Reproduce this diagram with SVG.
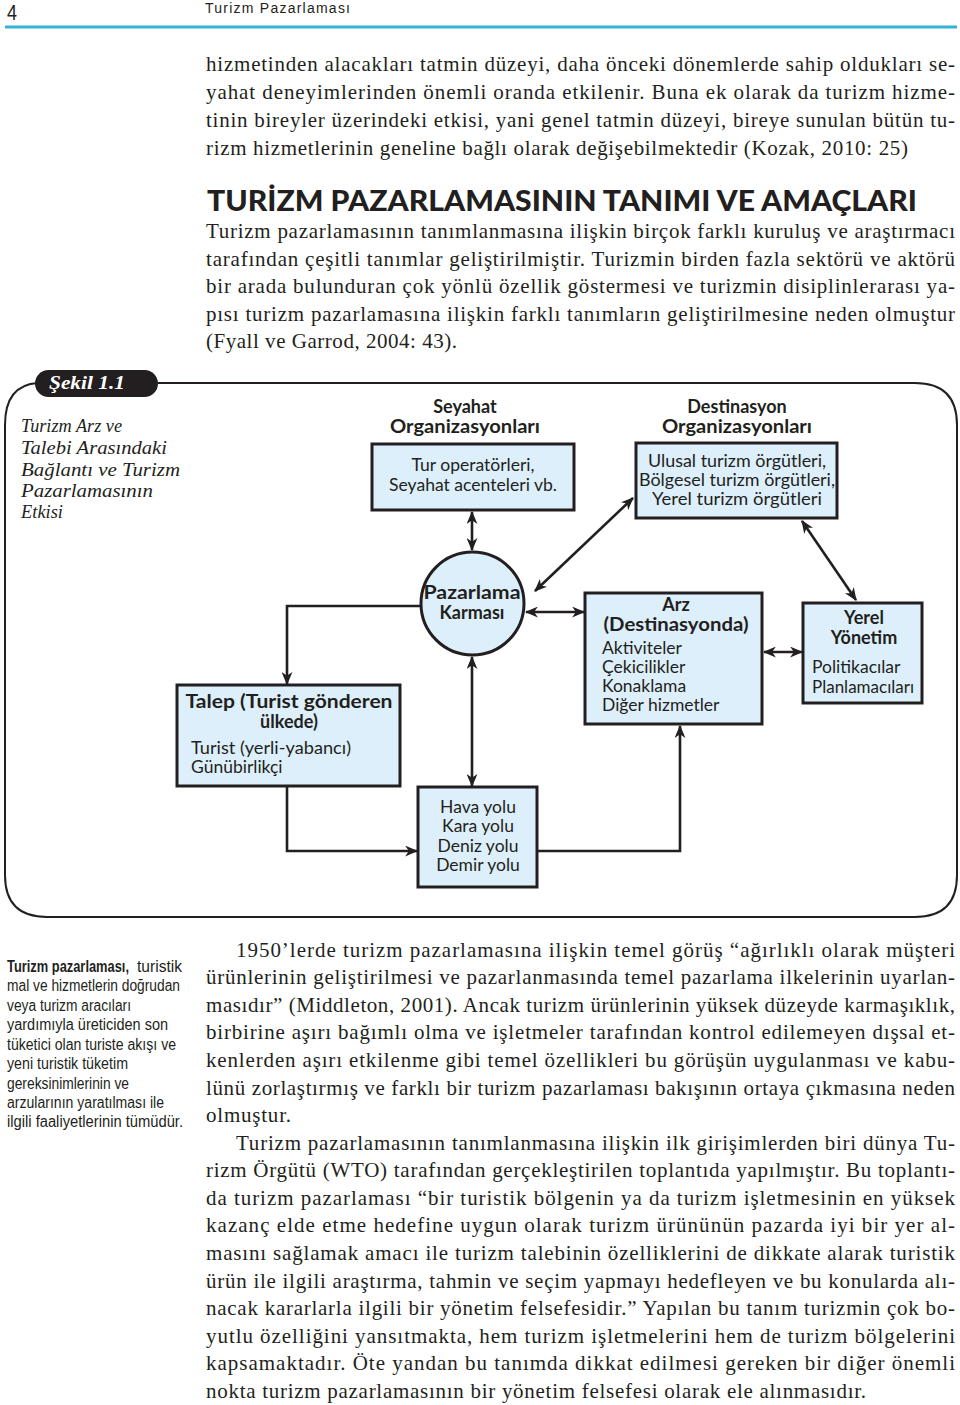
<svg xmlns="http://www.w3.org/2000/svg" width="960" height="1405" viewBox="0 0 960 1405">
<style>
.body{font-family:"Liberation Serif","DejaVu Serif",serif;font-size:21px;fill:#231f20}
.side{font-family:"Liberation Sans","DejaVu Sans",sans-serif;font-size:16px;fill:#231f20}
.cap{font-family:"Liberation Serif","DejaVu Serif",serif;font-size:19px;font-style:italic;fill:#231f20}
.t{font-family:Lato,"Open Sans","Liberation Sans",sans-serif;font-size:17.5px;fill:#231f20}
.tb{font-family:Lato,"Open Sans","Liberation Sans",sans-serif;font-size:18px;font-weight:bold;fill:#231f20}
.box{fill:#ddeffa;stroke:#231f20;stroke-width:3}
.con{fill:none;stroke:#231f20;stroke-width:2.6}
</style>
<defs>
<marker id="ah" viewBox="0 0 12 10" refX="11" refY="5" markerWidth="13" markerHeight="11" markerUnits="userSpaceOnUse" orient="auto-start-reverse">
<path d="M0,0 L12,5 L0,10 L3.5,5 Z" fill="#231f20"/>
</marker>
</defs>
<rect width="960" height="1405" fill="#ffffff"/>

<!-- header -->
<g id="header">
<text x="7" y="20" font-family="Liberation Sans,sans-serif" font-size="22" fill="#231f20" textLength="10" lengthAdjust="spacingAndGlyphs">4</text>
<text x="205" y="13" font-family="Liberation Sans,sans-serif" font-size="14" fill="#231f20" textLength="145" lengthAdjust="spacing">Turizm Pazarlaması</text>
<line x1="5" y1="27" x2="957" y2="27" stroke="#36b4d8" stroke-width="3"/>
</g>

<!-- paragraph 1 -->
<g id="para1">
<text class="body" x="206" y="71" textLength="749" lengthAdjust="spacing">hizmetinden alacakları tatmin düzeyi, daha önceki dönemlerde sahip oldukları se-</text>
<text class="body" x="206" y="99" textLength="749" lengthAdjust="spacing">yahat deneyimlerinden önemli oranda etkilenir. Buna ek olarak da turizm hizme-</text>
<text class="body" x="206" y="127" textLength="749" lengthAdjust="spacing">tinin bireyler üzerindeki etkisi, yani genel tatmin düzeyi, bireye sunulan bütün tu-</text>
<text class="body" x="206" y="155" textLength="702" lengthAdjust="spacing">rizm hizmetlerinin geneline bağlı olarak değişebilmektedir (Kozak, 2010: 25)</text>
</g>

<g id="heading">
<text x="207" y="211" font-family="Lato,'Open Sans','Liberation Sans',sans-serif" font-size="29" font-weight="900" fill="#231f20" textLength="710" lengthAdjust="spacingAndGlyphs">TURİZM PAZARLAMASININ TANIMI VE AMAÇLARI</text>
</g>

<g id="para2">
<text class="body" x="206" y="238" textLength="749" lengthAdjust="spacing">Turizm pazarlamasının tanımlanmasına ilişkin birçok farklı kuruluş ve araştırmacı</text>
<text class="body" x="206" y="266" textLength="749" lengthAdjust="spacing">tarafından çeşitli tanımlar geliştirilmiştir. Turizmin birden fazla sektörü ve aktörü</text>
<text class="body" x="206" y="293" textLength="749" lengthAdjust="spacing">bir arada bulunduran çok yönlü özellik göstermesi ve turizmin disiplinlerarası ya-</text>
<text class="body" x="206" y="321" textLength="749" lengthAdjust="spacing">pısı turizm pazarlamasına ilişkin farklı tanımların geliştirilmesine neden olmuştur</text>
<text class="body" x="206" y="348" textLength="251" lengthAdjust="spacing">(Fyall ve Garrod, 2004: 43).</text>
</g>

<!-- figure frame and caption -->
<g id="figure-frame">
<path d="M158 383 H915 Q957 383 957 425 V875 Q957 917 915 917 H47 Q5 917 5 875 V425 Q5 385 38 383" fill="none" stroke="#231f20" stroke-width="2"/>
<rect x="35" y="370" width="123" height="27" rx="13.5" fill="#231f20"/>
<text x="49" y="389" font-family="Liberation Serif,serif" font-size="19" font-style="italic" font-weight="bold" fill="#ffffff" textLength="76" lengthAdjust="spacingAndGlyphs">Şekil 1.1</text>
</g>
<g id="caption">
<text class="cap" x="21" y="432" textLength="101" lengthAdjust="spacingAndGlyphs">Turizm Arz ve</text>
<text class="cap" x="21" y="454" textLength="146" lengthAdjust="spacingAndGlyphs">Talebi Arasındaki</text>
<text class="cap" x="21" y="476" textLength="159" lengthAdjust="spacingAndGlyphs">Bağlantı ve Turizm</text>
<text class="cap" x="21" y="497" textLength="132" lengthAdjust="spacingAndGlyphs">Pazarlamasının</text>
<text class="cap" x="21" y="518" textLength="42" lengthAdjust="spacingAndGlyphs">Etkisi</text>
</g>

<!-- connectors -->
<g id="connectors">
<line class="con" x1="472" y1="512" x2="472" y2="550" marker-start="url(#ah)" marker-end="url(#ah)"/>
<line class="con" x1="535" y1="591" x2="633" y2="498" marker-start="url(#ah)" marker-end="url(#ah)"/>
<line class="con" x1="802" y1="521" x2="856" y2="600" marker-start="url(#ah)" marker-end="url(#ah)"/>
<line class="con" x1="526" y1="612" x2="584" y2="612" marker-start="url(#ah)" marker-end="url(#ah)"/>
<line class="con" x1="764" y1="652" x2="802" y2="652" marker-start="url(#ah)" marker-end="url(#ah)"/>
<polyline class="con" points="421,606 287,606 287,684" marker-end="url(#ah)"/>
<line class="con" x1="472" y1="657" x2="472" y2="786" marker-start="url(#ah)" marker-end="url(#ah)"/>
<polyline class="con" points="287,787 287,851 417,851" marker-end="url(#ah)"/>
<polyline class="con" points="538,851 680,851 680,726" marker-end="url(#ah)"/>
</g>

<!-- nodes -->
<g id="seyahat">
<text class="tb" x="465" y="413" text-anchor="middle">Seyahat</text>
<text class="tb" x="465" y="433" text-anchor="middle" textLength="150" lengthAdjust="spacingAndGlyphs">Organizasyonları</text>
<rect class="box" x="372" y="444" width="202" height="66"/>
<text class="t" x="473" y="471" text-anchor="middle">Tur operatörleri,</text>
<text class="t" x="473" y="491" text-anchor="middle" textLength="168" lengthAdjust="spacingAndGlyphs">Seyahat acenteleri vb.</text>
</g>

<g id="destinasyon">
<text class="tb" x="737" y="413" text-anchor="middle">Destinasyon</text>
<text class="tb" x="737" y="433" text-anchor="middle" textLength="150" lengthAdjust="spacingAndGlyphs">Organizasyonları</text>
<rect class="box" x="636" y="443" width="201" height="75"/>
<text class="t" x="737" y="467" text-anchor="middle" textLength="178" lengthAdjust="spacingAndGlyphs">Ulusal turizm örgütleri,</text>
<text class="t" x="737" y="486" text-anchor="middle" textLength="196" lengthAdjust="spacingAndGlyphs">Bölgesel turizm örgütleri,</text>
<text class="t" x="737" y="505" text-anchor="middle" textLength="170" lengthAdjust="spacingAndGlyphs">Yerel turizm örgütleri</text>
</g>

<g id="pazarlama-karmasi">
<circle cx="472.5" cy="603.5" r="51.5" fill="#ddeffa" stroke="#231f20" stroke-width="3"/>
<text class="tb" x="472" y="599" text-anchor="middle" textLength="97" lengthAdjust="spacingAndGlyphs">Pazarlama</text>
<text class="tb" x="472" y="619" text-anchor="middle">Karması</text>
</g>

<g id="talep">
<rect class="box" x="177" y="685" width="223" height="101"/>
<text class="tb" x="289" y="708" text-anchor="middle" textLength="207" lengthAdjust="spacingAndGlyphs">Talep (Turist gönderen</text>
<text class="tb" x="289" y="728" text-anchor="middle">ülkede)</text>
<text class="t" x="191" y="754" textLength="160" lengthAdjust="spacingAndGlyphs">Turist (yerli-yabancı)</text>
<text class="t" x="191" y="773">Günübirlikçi</text>
</g>

<g id="arz">
<rect class="box" x="585" y="593" width="177" height="131"/>
<text class="tb" x="676" y="611" text-anchor="middle">Arz</text>
<text class="tb" x="676" y="631" text-anchor="middle" textLength="145" lengthAdjust="spacingAndGlyphs">(Destinasyonda)</text>
<text class="t" x="602" y="654">Aktiviteler</text>
<text class="t" x="602" y="673">Çekicilikler</text>
<text class="t" x="602" y="692">Konaklama</text>
<text class="t" x="602" y="711">Diğer hizmetler</text>
</g>

<g id="yerel-yonetim">
<rect class="box" x="803" y="603" width="119" height="100"/>
<text class="tb" x="864" y="624" text-anchor="middle">Yerel</text>
<text class="tb" x="864" y="644" text-anchor="middle">Yönetim</text>
<text class="t" x="812" y="673">Politikacılar</text>
<text class="t" x="812" y="693" textLength="102" lengthAdjust="spacingAndGlyphs">Planlamacıları</text>
</g>

<g id="ulasim">
<rect class="box" x="418" y="787" width="119" height="100"/>
<text class="t" x="478" y="813" text-anchor="middle">Hava yolu</text>
<text class="t" x="478" y="832" text-anchor="middle">Kara yolu</text>
<text class="t" x="478" y="852" text-anchor="middle">Deniz yolu</text>
<text class="t" x="478" y="871" text-anchor="middle">Demir yolu</text>
</g>

<!-- side note -->
<g id="side-note">
<text class="side" x="7" y="972" font-weight="bold" textLength="122" lengthAdjust="spacingAndGlyphs">Turizm pazarlaması,</text>
<text class="side" x="137" y="972" textLength="45" lengthAdjust="spacingAndGlyphs">turistik</text>
<text class="side" x="7" y="991" textLength="173" lengthAdjust="spacingAndGlyphs">mal ve hizmetlerin doğrudan</text>
<text class="side" x="7" y="1011" textLength="124" lengthAdjust="spacingAndGlyphs">veya turizm aracıları</text>
<text class="side" x="7" y="1030" textLength="161" lengthAdjust="spacingAndGlyphs">yardımıyla üreticiden son</text>
<text class="side" x="7" y="1050" textLength="169" lengthAdjust="spacingAndGlyphs">tüketici olan turiste akışı ve</text>
<text class="side" x="7" y="1069" textLength="121" lengthAdjust="spacingAndGlyphs">yeni turistik tüketim</text>
<text class="side" x="7" y="1089" textLength="122" lengthAdjust="spacingAndGlyphs">gereksinimlerinin ve</text>
<text class="side" x="7" y="1108" textLength="157" lengthAdjust="spacingAndGlyphs">arzularının yaratılması ile</text>
<text class="side" x="7" y="1127" textLength="176" lengthAdjust="spacingAndGlyphs">ilgili faaliyetlerinin tümüdür.</text>
</g>

<!-- bottom paragraphs -->
<g id="para3">
<text class="body" x="236" y="957" textLength="719" lengthAdjust="spacing">1950’lerde turizm pazarlamasına ilişkin temel görüş “ağırlıklı olarak müşteri</text>
<text class="body" x="206" y="984" textLength="749" lengthAdjust="spacing">ürünlerinin geliştirilmesi ve pazarlanmasında temel pazarlama ilkelerinin uyarlan-</text>
<text class="body" x="206" y="1012" textLength="749" lengthAdjust="spacing">masıdır” (Middleton, 2001). Ancak turizm ürünlerinin yüksek düzeyde karmaşıklık,</text>
<text class="body" x="206" y="1039" textLength="749" lengthAdjust="spacing">birbirine aşırı bağımlı olma ve işletmeler tarafından kontrol edilemeyen dışsal et-</text>
<text class="body" x="206" y="1067" textLength="749" lengthAdjust="spacing">kenlerden aşırı etkilenme gibi temel özellikleri bu görüşün uygulanması ve kabu-</text>
<text class="body" x="206" y="1095" textLength="749" lengthAdjust="spacing">lünü zorlaştırmış ve farklı bir turizm pazarlaması bakışının ortaya çıkmasına neden</text>
<text class="body" x="206" y="1122" textLength="85" lengthAdjust="spacing">olmuştur.</text>
</g>
<g id="para4">
<text class="body" x="236" y="1150" textLength="719" lengthAdjust="spacing">Turizm pazarlamasının tanımlanmasına ilişkin ilk girişimlerden biri dünya Tu-</text>
<text class="body" x="206" y="1177" textLength="749" lengthAdjust="spacing">rizm Örgütü (WTO) tarafından gerçekleştirilen toplantıda yapılmıştır. Bu toplantı-</text>
<text class="body" x="206" y="1205" textLength="749" lengthAdjust="spacing">da turizm pazarlaması “bir turistik bölgenin ya da turizm işletmesinin en yüksek</text>
<text class="body" x="206" y="1232" textLength="749" lengthAdjust="spacing">kazanç elde etme hedefine uygun olarak turizm ürününün pazarda iyi bir yer al-</text>
<text class="body" x="206" y="1260" textLength="749" lengthAdjust="spacing">masını sağlamak amacı ile turizm talebinin özelliklerini de dikkate alarak turistik</text>
<text class="body" x="206" y="1288" textLength="749" lengthAdjust="spacing">ürün ile ilgili araştırma, tahmin ve seçim yapmayı hedefleyen ve bu konularda alı-</text>
<text class="body" x="206" y="1315" textLength="749" lengthAdjust="spacing">nacak kararlarla ilgili bir yönetim felsefesidir.” Yapılan bu tanım turizmin çok bo-</text>
<text class="body" x="206" y="1343" textLength="749" lengthAdjust="spacing">yutlu özelliğini yansıtmakta, hem turizm işletmelerini hem de turizm bölgelerini</text>
<text class="body" x="206" y="1370" textLength="749" lengthAdjust="spacing">kapsamaktadır. Öte yandan bu tanımda dikkat edilmesi gereken bir diğer önemli</text>
<text class="body" x="206" y="1398" textLength="660" lengthAdjust="spacing">nokta turizm pazarlamasının bir yönetim felsefesi olarak ele alınmasıdır.</text>
</g>
</svg>
